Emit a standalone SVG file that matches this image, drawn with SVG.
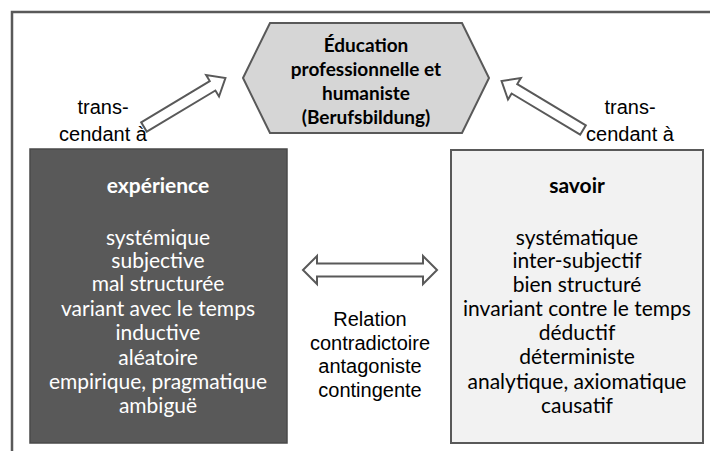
<svg xmlns="http://www.w3.org/2000/svg" width="710" height="451" viewBox="0 0 710 451">
<style>
.frame{fill:none;stroke:#595959;stroke-width:2.5}
.arrow{fill:#fff;stroke:#595959;stroke-width:2;stroke-linejoin:miter}
.lbl{font-family:"Liberation Sans",Arial,sans-serif;font-size:20px;fill:#000;text-anchor:middle}
.box{font-family:Lato,"Noto Sans",sans-serif;font-size:21px;text-anchor:middle}
.hex{font-family:Lato,"Noto Sans",sans-serif;font-size:19px;font-weight:bold;fill:#000;text-anchor:middle}
.bold{font-weight:bold}
.w{fill:#fff}
.k{fill:#000}
</style>
<rect class="frame" x="12" y="12" width="720" height="460"/>
<g id="connectors">
<polygon class="arrow" transform="translate(144,127) rotate(-31)" points="0,-5.5 80,-5.5 80,-12.5 95,0 80,12.5 80,5.5 0,5.5"/>
<polygon class="arrow" transform="translate(583,130) rotate(-149)" points="0,-5.5 80,-5.5 80,-12.5 95,0 80,12.5 80,5.5 0,5.5"/>
<polygon class="arrow" points="303,270 317,256 317,263.5 423,263.5 423,256 437,270 423,284 423,276.5 317,276.5 317,284"/>
</g>
<g id="label-left">
<text class="lbl" x="103" y="114">trans-</text>
<text class="lbl" x="103" y="141">cendant à</text>
</g>
<g id="label-right">
<text class="lbl" x="630" y="114">trans-</text>
<text class="lbl" x="630" y="141">cendant à</text>
</g>
<g id="relation">
<text class="lbl" x="370" y="326">Relation</text>
<text class="lbl" x="370" y="350">contradictoire</text>
<text class="lbl" x="370" y="373">antagoniste</text>
<text class="lbl" x="370" y="397">contingente</text>
</g>
<g id="education">
<polygon points="243,78 270,23 462,23 489,78 462,133 270,133" fill="#d6d6d6" stroke="#595959" stroke-width="2"/>
<text class="hex" x="366" y="52">Éducation</text>
<text class="hex" x="366" y="76">professionnelle et</text>
<text class="hex" x="366" y="100">humaniste</text>
<text class="hex" x="366" y="124">(Berufsbildung)</text>
</g>
<g id="experience">
<rect x="30" y="149" width="257" height="294" fill="#595959" stroke="#4a4a4a" stroke-width="1.5"/>
<text class="box bold w" x="158" y="193">expérience</text>
<text class="box w" x="158" y="245">systémique</text>
<text class="box w" x="158" y="268">subjective</text>
<text class="box w" x="158" y="291">mal structurée</text>
<text class="box w" x="158" y="316">variant avec le temps</text>
<text class="box w" x="158" y="340">inductive</text>
<text class="box w" x="158" y="365">aléatoire</text>
<text class="box w" x="158" y="389">empirique, pragmatique</text>
<text class="box w" x="158" y="413">ambiguë</text>
</g>
<g id="savoir">
<rect x="451" y="150" width="252" height="293" fill="#f2f2f2" stroke="#595959" stroke-width="2"/>
<text class="box bold k" x="577" y="193">savoir</text>
<text class="box k" x="577" y="245">systématique</text>
<text class="box k" x="577" y="268">inter-subjectif</text>
<text class="box k" x="577" y="292">bien structuré</text>
<text class="box k" x="577" y="316">invariant contre le temps</text>
<text class="box k" x="577" y="340">déductif</text>
<text class="box k" x="577" y="364">déterministe</text>
<text class="box k" x="577" y="389">analytique, axiomatique</text>
<text class="box k" x="577" y="413">causatif</text>
</g>
</svg>
